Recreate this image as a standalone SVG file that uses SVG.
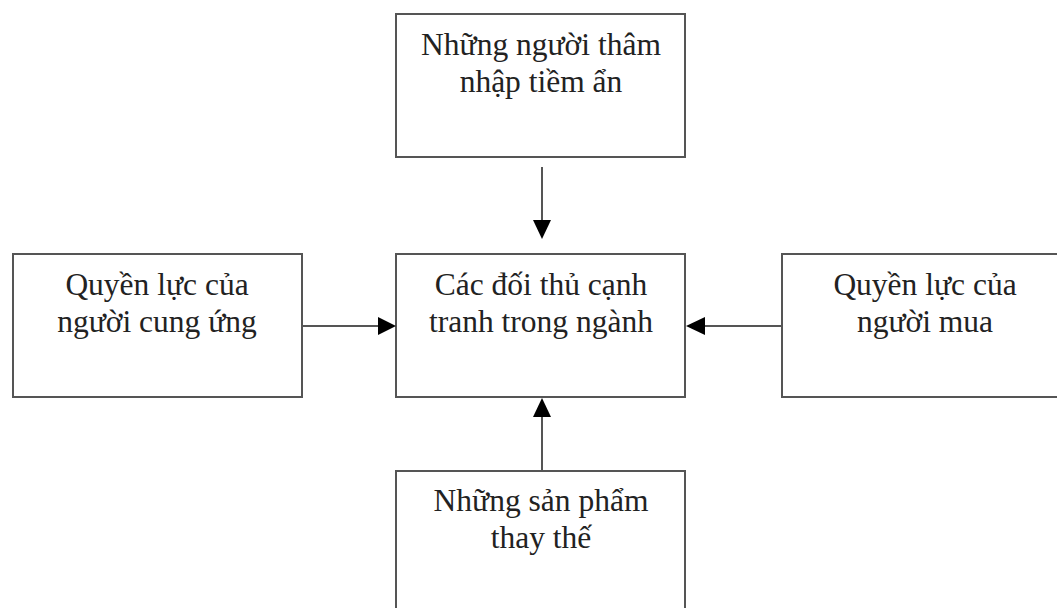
<svg xmlns="http://www.w3.org/2000/svg" width="1057" height="608" viewBox="0 0 1057 608">
<style>
.box{fill:#fff;stroke:#555;stroke-width:2}
.t{font-family:"Liberation Serif","Times New Roman",serif;font-size:31.5px;fill:#222;text-anchor:middle}
.c{stroke:#555;stroke-width:2;fill:none}
.ah{fill:#000}
</style>
<rect width="1057" height="608" fill="#fff"/>
<g id="top">
<rect class="box" x="396" y="14" width="289" height="143"/>
<text class="t" x="541" y="55">Những người thâm</text>
<text class="t" x="541" y="92">nhập tiềm ẩn</text>
</g>
<g id="left">
<rect class="box" x="13" y="254" width="289" height="143"/>
<text class="t" x="157" y="295">Quyền lực của</text>
<text class="t" x="157" y="332">người cung ứng</text>
</g>
<g id="center">
<rect class="box" x="396" y="254" width="289" height="143"/>
<text class="t" x="541" y="295">Các đối thủ cạnh</text>
<text class="t" x="541" y="332">tranh trong ngành</text>
</g>
<g id="right">
<rect class="box" x="782" y="254" width="289" height="143"/>
<text class="t" x="925" y="295">Quyền lực của</text>
<text class="t" x="925" y="332">người mua</text>
</g>
<g id="bottom">
<rect class="box" x="396" y="471" width="289" height="150"/>
<text class="t" x="541" y="511">Những sản phẩm</text>
<text class="t" x="541" y="548">thay thế</text>
</g>
<g id="connectors">
<line class="c" x1="542" y1="167" x2="542" y2="220"/>
<path class="ah" d="M533,220 L551,220 L542,239 Z"/>
<line class="c" x1="302" y1="326" x2="378" y2="326"/>
<path class="ah" d="M378,317 L378,335 L396,326 Z"/>
<line class="c" x1="782" y1="326" x2="704" y2="326"/>
<path class="ah" d="M705,317 L705,335 L686,326 Z"/>
<line class="c" x1="542" y1="471" x2="542" y2="416"/>
<path class="ah" d="M533,417 L551,417 L542,398 Z"/>
</g>
</svg>
